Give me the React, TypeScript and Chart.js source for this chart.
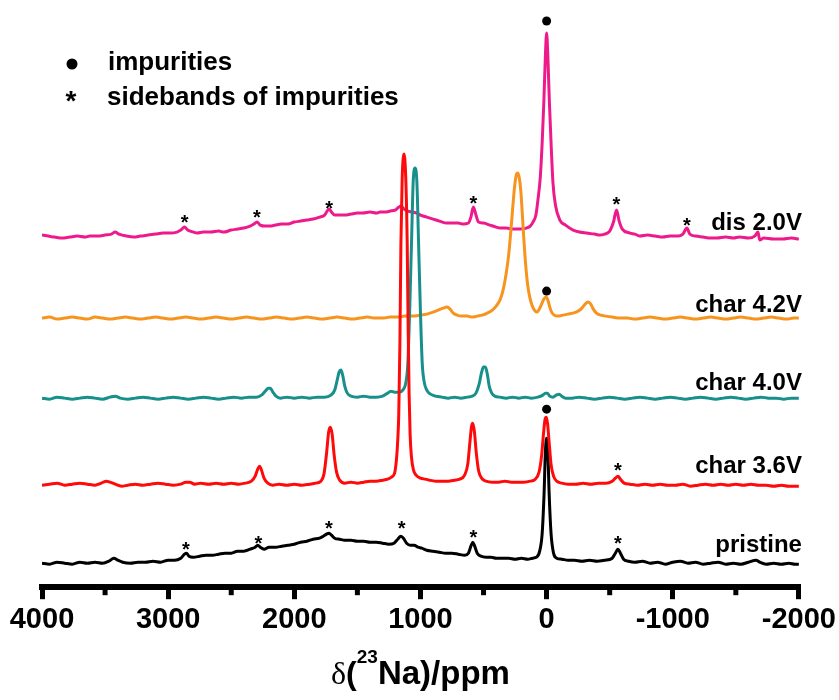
import React, { useEffect, useRef } from "react";
import { Chart, registerables } from "chart.js";

Chart.register(...registerables);

// ---- data (ppm, intensity above each trace's own baseline, arbitrary units) ----
const seriesNames = ["pristine", "char 3.6V", "char 4.0V", "char 4.2V", "dis 2.0V"];
const seriesOffsets = [24, 103, 189, 269, 350];
const labelLevels = [35, 114, 197, 275, 357];

const pristine: [number, number][] = [
  [4000,0],[3940,-1],[3880,1],[3820,0],[3760,-1],[3700,1],[3640,0],[3580,1],[3520,0],[3470,2],[3430,5],[3400,3],[3360,1],[3300,0],[3240,1],[3180,1],[3120,2],[3060,1],[3000,3],[2950,3],[2900,5],[2870,9],[2855,10],[2835,7],[2800,6],[2750,7],[2700,8],[2650,8],[2600,9],[2550,10],[2500,10],[2450,12],[2400,12],[2350,14],[2310,16],[2290,18],[2270,16],[2240,14],[2200,16],[2150,16],[2100,17],[2050,18],[2000,19],[1950,21],[1900,22],[1850,24],[1800,25],[1770,27],[1745,29],[1725,30],[1705,28],[1680,25],[1640,24],[1600,23],[1550,23],[1500,22],[1450,22],[1400,21],[1350,21],[1300,20],[1250,19],[1210,20],[1180,24],[1155,27],[1135,25],[1110,20],[1080,18],[1050,18],[1020,16],[990,15],[950,13],[900,12],[850,11],[800,10],[750,10],[700,9],[650,8],[620,10],[600,17],[585,21],[570,17],[550,10],[520,7],[480,6],[440,6],[400,5],[350,5],[300,5],[250,4],[200,5],[150,4],[110,5],[80,6],[55,12],[35,30],[20,70],[10,110],[0,125],[-10,110],[-20,70],[-35,30],[-55,10],[-80,5],[-120,4],[-170,3],[-220,3],[-280,2],[-340,3],[-400,2],[-460,3],[-520,5],[-545,10],[-565,14],[-585,10],[-610,4],[-650,2],[-700,1],[-760,2],[-820,0],[-880,1],[-940,-1],[-1000,1],[-1060,2],[-1120,0],[-1180,1],[-1240,-1],[-1300,0],[-1360,1],[-1420,-1],[-1480,0],[-1540,-1],[-1600,1],[-1660,3],[-1690,1],[-1740,-1],[-1800,0],[-1860,-1],[-1920,0],[-1970,-1],[-2000,-1]
];

const char36: [number, number][] = [
  [4000,-1],[3940,0],[3880,1],[3820,-1],[3760,0],[3700,1],[3640,0],[3580,-1],[3530,1],[3490,3],[3460,2],[3420,0],[3370,-2],[3320,-1],[3260,0],[3200,-1],[3140,0],[3080,1],[3020,0],[2960,-1],[2900,0],[2860,2],[2830,2],[2790,0],[2740,1],[2680,0],[2620,1],[2560,0],[2500,1],[2440,0],[2390,1],[2340,3],[2310,8],[2290,15],[2275,18],[2260,14],[2240,6],[2210,1],[2170,-1],[2120,0],[2060,-1],[2000,0],[1940,-1],[1880,0],[1830,1],[1790,3],[1765,10],[1745,30],[1728,52],[1715,57],[1700,50],[1685,30],[1665,12],[1640,4],[1600,1],[1550,2],[1500,1],[1450,2],[1400,3],[1350,3],[1300,4],[1260,5],[1230,7],[1205,11],[1190,25],[1180,44],[1172,70],[1163,140],[1155,240],[1145,305],[1130,330],[1115,300],[1105,240],[1098,160],[1090,90],[1082,50],[1072,28],[1055,14],[1035,9],[1000,6],[960,5],[930,4],[880,3],[830,3],[780,3],[730,4],[690,5],[650,9],[625,20],[608,42],[595,58],[585,61],[572,52],[558,32],[540,14],[515,6],[480,3],[430,2],[380,2],[330,3],[280,2],[230,2],[180,2],[130,3],[90,5],[60,12],[40,28],[25,50],[12,65],[2,67],[-8,60],[-20,42],[-35,20],[-55,8],[-80,3],[-120,1],[-170,0],[-230,0],[-290,1],[-350,0],[-410,1],[-470,1],[-520,3],[-545,6],[-565,8],[-585,5],[-615,1],[-660,0],[-720,-1],[-780,0],[-840,-1],[-900,0],[-960,-1],[-1020,-1],[-1080,0],[-1140,-2],[-1200,-1],[-1260,0],[-1320,-1],[-1380,0],[-1440,-1],[-1500,0],[-1560,-1],[-1620,0],[-1680,-1],[-1740,-1],[-1800,-2],[-1860,-1],[-1920,-2],[-2000,-2]
];

const char40: [number, number][] = [
  [4000,0],[3940,-1],[3880,1],[3820,0],[3760,-1],[3700,0],[3640,1],[3580,0],[3520,-1],[3460,1],[3420,2],[3380,0],[3320,-1],[3260,0],[3200,1],[3140,0],[3080,-1],[3020,0],[2960,1],[2900,0],[2840,-1],[2780,0],[2720,1],[2660,0],[2600,-1],[2540,0],[2480,1],[2420,0],[2360,1],[2300,1],[2260,3],[2230,7],[2205,10],[2190,10],[2170,6],[2145,2],[2110,0],[2060,1],[2000,0],[1940,1],[1880,0],[1820,1],[1760,1],[1710,3],[1680,8],[1660,18],[1645,26],[1630,28],[1615,22],[1600,12],[1580,5],[1550,2],[1500,1],[1450,2],[1400,1],[1350,1],[1300,2],[1260,5],[1235,7],[1205,6],[1170,6],[1140,8],[1115,16],[1100,35],[1085,90],[1070,160],[1058,215],[1043,230],[1028,215],[1016,160],[1001,90],[986,35],[970,16],[950,8],[920,4],[880,2],[830,1],[780,0],[730,1],[680,0],[630,1],[590,2],[560,5],[535,14],[515,26],[500,31],[485,31],[470,24],[455,12],[435,5],[410,2],[370,1],[320,0],[270,1],[220,0],[170,1],[120,0],[70,1],[30,3],[10,5],[-5,5],[-25,2],[-50,1],[-75,3],[-100,4],[-120,2],[-150,0],[-200,0],[-260,1],[-320,0],[-380,-1],[-440,0],[-500,1],[-560,0],[-620,-1],[-680,0],[-740,1],[-800,0],[-860,-1],[-920,0],[-980,1],[-1040,0],[-1100,-1],[-1160,0],[-1220,1],[-1280,0],[-1340,-1],[-1400,0],[-1460,1],[-1520,0],[-1580,-1],[-1640,0],[-1700,1],[-1760,0],[-1820,0],[-1880,-1],[-1940,0],[-2000,0]
];

const char42: [number, number][] = [
  [4000,0],[3940,1],[3880,-1],[3820,0],[3760,1],[3700,0],[3640,-1],[3580,1],[3520,0],[3460,-1],[3400,0],[3340,1],[3280,0],[3220,-1],[3160,0],[3100,1],[3040,0],[2980,-1],[2920,0],[2860,1],[2800,0],[2740,-1],[2680,0],[2620,1],[2560,0],[2500,-1],[2440,0],[2380,1],[2320,0],[2260,-1],[2200,0],[2140,1],[2080,0],[2020,-1],[1960,0],[1900,1],[1840,0],[1780,-1],[1720,0],[1660,1],[1600,0],[1540,-1],[1480,0],[1420,1],[1360,0],[1300,0],[1240,1],[1180,1],[1120,2],[1060,2],[1000,3],[950,4],[900,6],[860,8],[820,10],[790,11],[765,9],[740,5],[710,3],[670,2],[630,2],[590,1],[550,2],[510,3],[470,5],[430,8],[400,12],[370,18],[345,28],[320,45],[300,64],[285,85],[270,108],[255,130],[242,142],[230,145],[218,141],[205,128],[193,105],[180,78],[165,52],[150,33],[132,20],[110,11],[90,7],[75,6],[58,9],[40,14],[22,19],[5,21],[-10,18],[-25,11],[-40,6],[-60,3],[-90,2],[-130,3],[-170,4],[-210,5],[-250,7],[-280,10],[-305,14],[-330,16],[-350,14],[-370,9],[-395,5],[-430,3],[-470,2],[-520,1],[-580,0],[-640,0],[-700,-1],[-760,0],[-820,1],[-880,0],[-940,-1],[-1000,0],[-1060,1],[-1120,0],[-1180,-1],[-1240,0],[-1300,1],[-1360,0],[-1420,-1],[-1480,0],[-1540,1],[-1600,0],[-1660,-1],[-1720,0],[-1780,1],[-1840,0],[-1900,-1],[-1960,0],[-2000,0]
];

const dis20: [number, number][] = [
  [4000,2],[3950,1],[3900,0],[3840,-1],[3780,0],[3720,1],[3660,0],[3620,1],[3560,1],[3500,2],[3450,3],[3420,5],[3390,3],[3330,1],[3270,0],[3220,1],[3160,2],[3100,3],[3040,4],[2980,4],[2930,5],[2900,7],[2870,10],[2845,7],[2800,5],[2770,4],[2720,5],[2660,5],[2600,6],[2560,5],[2500,7],[2450,8],[2400,9],[2350,11],[2320,13],[2296,15],[2270,12],[2230,11],[2190,11],[2150,12],[2100,13],[2050,13],[2000,15],[1950,16],[1900,17],[1850,18],[1800,20],[1760,22],[1740,26],[1724,28],[1705,25],[1680,22],[1640,22],[1600,22],[1550,23],[1500,24],[1455,24],[1400,25],[1350,24],[1320,25],[1280,25],[1240,26],[1200,27],[1170,30],[1154,31],[1130,28],[1100,26],[1060,25],[1030,24],[1000,22],[950,20],[900,18],[850,16],[790,14],[750,14],[700,14],[660,13],[620,14],[600,20],[581,30],[560,22],[540,15],[500,14],[450,12],[400,10],[370,9],[320,9],[270,8],[212,8],[160,9],[130,11],[108,15],[85,22],[69,37],[50,60],[35,95],[22,135],[10,180],[0,204],[-10,180],[-22,135],[-35,95],[-50,55],[-70,32],[-105,17],[-150,12],[-210,7],[-260,5],[-320,4],[-380,3],[-420,2],[-460,3],[-500,6],[-530,15],[-554,27],[-575,16],[-600,8],[-660,4],[-700,3],[-740,1],[-800,2],[-860,1],[-920,0],[-980,1],[-1040,1],[-1080,3],[-1112,9],[-1135,3],[-1180,1],[-1240,0],[-1300,-1],[-1350,-1],[-1420,0],[-1480,-1],[-1530,0],[-1600,-1],[-1650,1],[-1675,5],[-1690,-3],[-1720,-1],[-1800,-2],[-1873,-2],[-1940,-1],[-2000,-2]
];

const spectra = [pristine, char36, char40, char42, dis20];

// annotation marks (ppm, level on the stacked scale)
const dotPpm = [0, 0, 0];
const dotLevel = [566, 296, 178];
const starPpm = [2870, 2296, 1724, 581, -554, -1112, -565, 2860, 2285, 1725, 1150, 580, -565];
const starLevel = [369, 374, 383, 388, 387, 366, 121, 42, 48, 63, 63, 54, 48];

const xTicks = [4000, 3000, 2000, 1000, 0, -1000, -2000];
const legendItems = ["impurities", "sidebands of impurities"];

// ---- styles ----
const seriesColors = ["#000000", "#FF0A0A", "#17908C", "#F7941E", "#EE1A8C"];
const SANS = '"Liberation Sans", Arial, sans-serif';

const overlayPlugin = {
  id: "overlay",
  afterDatasetsDraw(chart: any) {
    const { ctx } = chart;
    const xs = chart.scales.x;
    const ys = chart.scales.y;
    ctx.save();
    ctx.fillStyle = "#000";
    for (let i = 0; i < dotPpm.length; i++) {
      ctx.beginPath();
      ctx.arc(xs.getPixelForValue(dotPpm[i]), ys.getPixelForValue(dotLevel[i]), 4.5, 0, Math.PI * 2);
      ctx.fill();
    }
    ctx.font = `bold 20px ${SANS}`;
    ctx.textAlign = "center";
    ctx.textBaseline = "alphabetic";
    for (let i = 0; i < starPpm.length; i++) {
      ctx.fillText("*", xs.getPixelForValue(starPpm[i]), ys.getPixelForValue(starLevel[i]) + 11);
    }
    ctx.restore();
  },
  afterDraw(chart: any) {
    const { ctx, chartArea } = chart;
    const xs = chart.scales.x;
    const ys = chart.scales.y;
    ctx.save();
    // minor ticks
    ctx.strokeStyle = "#000";
    ctx.lineWidth = 5;
    for (let i = 0; i < xTicks.length - 1; i++) {
      const v = (xTicks[i] + xTicks[i + 1]) / 2;
      const x = xs.getPixelForValue(v);
      ctx.beginPath();
      ctx.moveTo(x, chartArea.bottom + 2);
      ctx.lineTo(x, chartArea.bottom + 8);
      ctx.stroke();
    }
    // trace labels
    ctx.fillStyle = "#000";
    ctx.font = `bold 24px ${SANS}`;
    ctx.textAlign = "right";
    ctx.textBaseline = "alphabetic";
    for (let i = 0; i < seriesNames.length; i++) {
      ctx.fillText(seriesNames[i], chartArea.right + 3, ys.getPixelForValue(labelLevels[i]));
    }
    // legend
    const lx = chartArea.left;
    const ly = chartArea.top;
    ctx.beginPath();
    ctx.arc(lx + 30, ly + 54, 5.5, 0, Math.PI * 2);
    ctx.fill();
    ctx.font = `bold 28px ${SANS}`;
    ctx.textAlign = "center";
    ctx.fillText("*", lx + 29, ly + 100);
    ctx.font = `bold 26px ${SANS}`;
    ctx.textAlign = "left";
    ctx.fillText(legendItems[0], lx + 66, ly + 60);
    ctx.fillText(legendItems[1], lx + 65, ly + 95);
    // axis title: δ(²³Na)/ppm
    const cx = (chartArea.left + chartArea.right) / 2;
    const by = chartArea.bottom + 97;
    const parts = [
      { t: "δ", f: `32px "Liberation Serif", "Times New Roman", serif`, dy: 0 },
      { t: "(", f: `bold 32px ${SANS}`, dy: 0 },
      { t: "23", f: `bold 19px ${SANS}`, dy: -21 },
      { t: "Na)/ppm", f: `bold 33px ${SANS}`, dy: 0 },
    ];
    let total = 0;
    const widths: number[] = [];
    for (const p of parts) {
      ctx.font = p.f;
      const w = ctx.measureText(p.t).width;
      widths.push(w);
      total += w;
    }
    let x = cx - total / 2;
    ctx.textAlign = "left";
    parts.forEach((p, i) => {
      ctx.font = p.f;
      ctx.fillText(p.t, x, by + p.dy);
      x += widths[i];
    });
    ctx.restore();
  },
};

export default function App() {
  const ref = useRef<HTMLCanvasElement | null>(null);
  useEffect(() => {
    document.body.style.margin = "0";
    const canvas = ref.current;
    if (!canvas) return;
    const order = [1, 0, 2, 3, 4]; // red on top, then black, teal, orange, pink
    const datasets = order.map((i) => ({
      label: seriesNames[i],
      data: spectra[i].map(([p, v]) => ({ x: p, y: v + seriesOffsets[i] })),
      borderColor: seriesColors[i],
      borderWidth: 3,
      pointRadius: 0,
      fill: false,
      cubicInterpolationMode: "monotone" as const,
    }));
    const chart = new Chart(canvas, {
      type: "line",
      data: { datasets },
      options: {
        animation: false,
        responsive: false,
        devicePixelRatio: 1,
        layout: { padding: { left: 42, right: 40, top: 10, bottom: 60 } },
        plugins: { legend: { display: false }, tooltip: { enabled: false }, title: { display: false } },
        scales: {
          x: {
            type: "linear",
            reverse: true,
            min: -2000,
            max: 4000,
            ticks: {
              stepSize: 500,
              autoSkip: false,
              maxRotation: 0,
              padding: 3,
              color: "#000",
              font: { family: SANS, size: 29, weight: "bold" },
              callback: (v: any) => (xTicks.includes(Number(v)) ? String(v) : ""),
            },
            grid: {
              display: true,
              drawOnChartArea: false,
              drawTicks: true,
              tickLength: 12,
              lineWidth: 5,
              color: (c: any) => (c.tick && xTicks.includes(c.tick.value) ? "#000" : "rgba(0,0,0,0)"),
            },
            border: { display: true, width: 6, color: "#000" },
          },
          y: { type: "linear", display: false, min: 0, max: 577 },
        },
      },
      plugins: [overlayPlugin],
    });
    return () => chart.destroy();
  }, []);
  return (
    <div style={{ width: 839, height: 700, background: "#fff" }}>
      <canvas ref={ref} width={839} height={700} style={{ display: "block", width: 839, height: 700 }} />
    </div>
  );
}
